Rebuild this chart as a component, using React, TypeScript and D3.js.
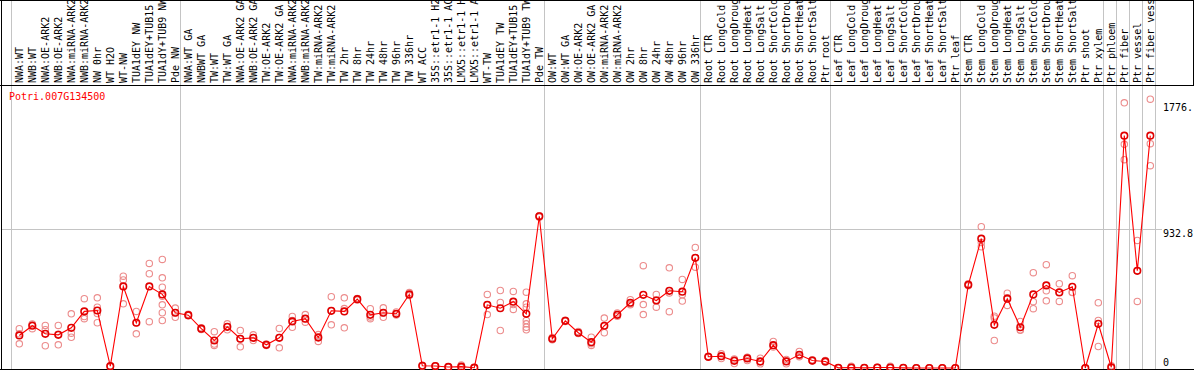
import React from "react";
import * as d3 from "d3";

const categories: string[] = [
  "NWA:WT", "NWB:WT", "NWA:OE-ARK2", "NWB:OE-ARK2", "NWA:miRNA-ARK2", "NWB:miRNA-ARK2",
  "NW 0hr", "WT H2O", "WT-NW", "TUA1dEY NW", "TUA1dEY+TUB15", "TUA1dY+TUB9 NW", "Pde NW",
  "NWA:WT GA", "NWBWT GA", "TW:WT", "TW:WT GA", "NWA:OE-ARK2 GA", "NWB:OE-ARK2 GA",
  "TW:OE-ARK2", "TW:OE-ARK2 GA", "NWA:miRNA-ARK2", "NWB:miRNA-ARK2", "TW:miRNA-ARK2",
  "TW:miRNA-ARK2", "TW 2hr", "TW 8hr", "TW 24hr", "TW 48hr", "TW 96hr", "TW 336hr",
  "WT ACC", "35S::etr1-1 H2O", "35S::etr1-1 ACC", "LMX5::etr1-1 H2O", "LMX5::etr1-1 ACC",
  "WT-TW", "TUA1dEY TW", "TUA1dEY+TUB15", "TUA1dY+TUB9 TW", "Pde TW",
  "OW:WT", "OW:WT GA", "OW:OE-ARK2", "OW:OE-ARK2 GA", "OW:miRNA-ARK2", "OW:miRNA-ARK2",
  "OW 2hr", "OW 8hr", "OW 24hr", "OW 48hr", "OW 96hr", "OW 336hr",
  "Root CTR", "Root LongCold", "Root LongDrought", "Root LongHeat", "Root LongSalt",
  "Root ShortCold", "Root ShortDrought", "Root ShortHeat", "Root ShortSalt", "Ptr root",
  "Leaf CTR", "Leaf LongCold", "Leaf LongDrought", "Leaf LongHeat", "Leaf LongSalt",
  "Leaf ShortCold", "Leaf ShortDrought", "Leaf ShortHeat", "Leaf ShortSalt", "Ptr leaf",
  "Stem CTR", "Stem LongCold", "Stem LongDrought", "Stem LongHeat", "Stem LongSalt",
  "Stem ShortCold", "Stem ShortDrought", "Stem ShortHeat", "Stem ShortSalt", "Ptr shoot",
  "Ptr xylem", "Ptr phloem", "Ptr fiber", "Ptr vessel", "Ptr fiber vessel",
];

const means: number[] = [
  218, 283, 229, 222, 269, 379, 385, 12, 546, 303, 546, 493, 370,
  354, 263, 184, 276, 196, 202, 155, 202, 312, 330, 204, 383, 379, 461, 356, 370, 363, 493,
  15, 13, 7, 9, 2, 423, 400, 444, 363, 1016,
  196, 316, 236, 173, 283, 356, 437, 490, 452, 517, 511, 738,
  75, 79, 48, 64, 44, 153, 44, 88, 50, 44,
  1, 3, 1, 3, 3, 1, 0, 0, 0, 0,
  557, 866, 289, 464, 273, 493, 553, 506, 544, 0, 296,
  5, 1556, 651, 1556,
];

const replicates: number[][] = [
  [263, 229, 162], [295, 263, 290], [285, 256, 149], [285, 226, 155], [363, 233, 206],
  [464, 345, 330], [470, 407, 365, 303], [14, 10, 12], [615, 590, 430], [379, 303, 229],
  [700, 631, 310], [727, 604, 541, 481, 423, 370, 318], [401, 370, 340],
  [360, 350, 352], [270, 258, 262], [243, 160, 151], [296, 276, 256], [251, 196, 142],
  [222, 202, 184], [160, 150, 155], [265, 205, 135], [345, 318, 273], [358, 330, 307],
  [224, 210, 178], [477, 383, 289], [470, 398, 269], [466, 455, 462], [397, 342, 330],
  [403, 368, 340], [375, 360, 355], [505, 490, 485],
  [18, 12, 15], [15, 12, 12], [8, 6, 7], [20, 4, 3], [3, 2, 1],
  [493, 423, 358], [519, 439, 251], [513, 425, 392], [508, 430, 407, 318, 296, 273, 256],
  [1020, 1010, 1018],
  [205, 190, 193], [320, 312, 316], [245, 232, 231], [206, 163, 151], [334, 280, 236],
  [368, 355, 346], [457, 430, 424], [685, 425, 358], [493, 455, 407], [671, 503, 377],
  [593, 490, 448], [807, 738, 675],
  [78, 72, 75], [95, 79, 63], [60, 55, 30], [72, 70, 50], [66, 40, 28], [178, 150, 140],
  [57, 47, 28], [111, 80, 75], [55, 48, 47], [50, 42, 40],
  [2, 1, 0], [12, 0, 0], [2, 1, 0], [5, 2, 1], [12, 0, 0], [2, 1, 0], [0, 0, 0],
  [0, 0, 0], [0, 0, 0], [0, 0, 0],
  [565, 555, 550], [946, 840, 812], [347, 335, 184], [501, 470, 419], [312, 256, 252],
  [638, 444, 397], [692, 517, 450], [564, 508, 446], [618, 508, 506], [0, 0, 0],
  [437, 318, 144], [15, 0, 0], [1776, 1498, 1395], [854, 651, 446], [1800, 1502, 1355],
];

const groupStarts: number[] = [0, 13, 41, 53, 63, 73, 84, 85, 86, 87];
const geneName = "Potri.007G134500";
const yTickValues: number[] = [0, 932.8, 1776];
const yTickLabels: string[] = ["0", "932.8", "1776."];
const yMax = 1865.6;

const W = 1194;
const H = 370;
const FONT = "'DejaVu Sans Mono', 'Liberation Mono', monospace";

export default function App() {
  const idx = categories.map((_, i) => i);
  const x = d3.scalePoint<number>().domain(idx).range([19.3, 19.3 + 13 * (categories.length - 1)]);
  const y = d3.scaleLinear().domain([0, yMax]).range([368, 89.4]);
  const line = d3
    .line<number>()
    .x((_, i) => x(i) as number)
    .y((d) => y(d));

  const sepX = groupStarts.map((g) => Math.round((x(g) as number) - 8.4) + 0.5);
  sepX.push(Math.round((x(categories.length - 1) as number) + 4.7) + 0.5);

  const headerBottom = 85.5;

  return (
    <div style={{ position: "absolute", left: 0, top: 0, width: W, height: H, background: "#fff" }}>
      <svg width={W} height={H} style={{ display: "block" }} fontFamily={FONT} fontSize={10}>
        <rect x={0} y={0} width={W} height={H} fill="#fff" />
        {/* horizontal grid line */}
        <line x1={1} x2={1162} y1={Math.round(y(932.8)) + 0.5} y2={Math.round(y(932.8)) + 0.5} stroke="#c4c4c4" />
        {/* vertical separators */}
        {sepX.map((sx, i) => (
          <line key={"s" + i} x1={sx} x2={sx} y1={0} y2={369} stroke="#c4c4c4" />
        ))}
        {/* header labels */}
        {categories.map((c, i) => (
          <text
            key={"c" + i}
            transform={`translate(${(x(i) as number) + 3.5},83) rotate(-90)`}
            fill="#000"
          >
            {c}
          </text>
        ))}
        {/* borders */}
        <line x1={0} x2={W} y1={headerBottom} y2={headerBottom} stroke="#000" />
        <line x1={0} x2={W} y1={0.5} y2={0.5} stroke="#000" />
        <line x1={1.5} x2={1.5} y1={0} y2={369} stroke="#000" />
        <line x1={W - 0.5} x2={W - 0.5} y1={0} y2={headerBottom} stroke="#000" />
        <line x1={0} x2={W} y1={369.5} y2={369.5} stroke="#000" />
        {/* title */}
        <text x={9} y={100} fill="#ff0000">{geneName}</text>
        {/* y labels */}
        {yTickValues.map((v, i) => (
          <text key={"y" + i} x={1163} y={v === 0 ? y(v) - 2 : y(v) + 8.5} fill="#000">
            {yTickLabels[i]}
          </text>
        ))}
        {/* replicate circles */}
        {replicates.map((reps, i) =>
          reps.map((r, j) => (
            <circle
              key={`r${i}-${j}`}
              cx={x(i) as number}
              cy={y(r)}
              r={3.2}
              fill="none"
              stroke="#ec8c8c"
              strokeWidth={1.1}
            />
          ))
        )}
        {/* mean line */}
        <path d={line(means) || ""} fill="none" stroke="#ff0000" strokeWidth={1.1} />
        {/* mean circles */}
        {means.map((m, i) => (
          <circle
            key={"m" + i}
            cx={x(i) as number}
            cy={y(m)}
            r={3.3}
            fill="none"
            stroke="#e00000"
            strokeWidth={1.6}
          />
        ))}
      </svg>
    </div>
  );
}
